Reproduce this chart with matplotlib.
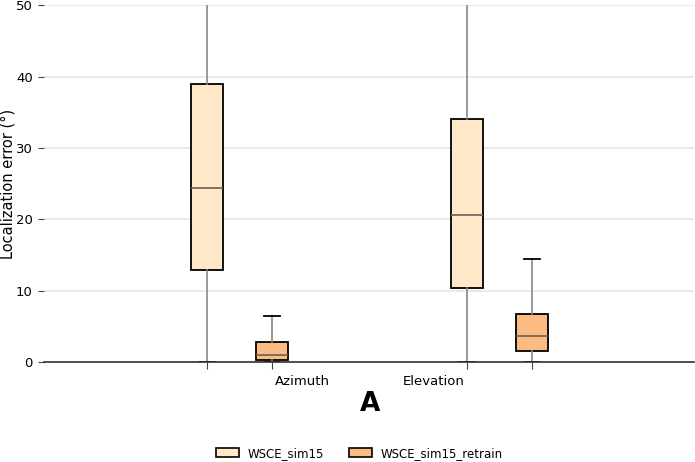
import matplotlib
matplotlib.use("Agg")
import matplotlib.pyplot as plt
from matplotlib.patches import Patch

categories = ["Azimuth", "Elevation"]
series = ["WSCE_sim15", "WSCE_sim15_retrain"]
colors = ["#fee8c8", "#fdbb84"]

# box stats per series per category: (whislo, q1, med, q3, whishi)
sim15_stats = [(0.0, 12.9, 24.4, 38.9, 75.0), (0.0, 10.4, 20.6, 34.1, 75.0)]
retrain_stats = [(0.0, 0.37, 1.07, 2.85, 6.5), (0.0, 1.55, 3.64, 6.7, 14.4)]
all_stats = [sim15_stats, retrain_stats]

yticks = [0, 10, 20, 30, 40, 50]

fig = plt.figure(figsize=(6.95, 4.62), dpi=100)
ax = fig.add_axes([0.063, 0.216, 0.935, 0.773])

offsets = [-0.125, 0.125]
width = 0.124
box_positions = []
for si, stats in enumerate(all_stats):
    bxp = []
    pos = []
    for ci, (lo, q1, med, q3, hi) in enumerate(stats):
        bxp.append(dict(whislo=lo, q1=q1, med=med, q3=q3, whishi=hi, fliers=[], label=""))
        pos.append(ci + 1 + offsets[si])
    box_positions += pos
    ax.bxp(bxp, positions=pos, widths=width, patch_artist=True, showfliers=False,
           boxprops=dict(facecolor=colors[si], edgecolor="black", linewidth=1.3),
           medianprops=dict(color="#6b5f55", linewidth=1.2),
           whiskerprops=dict(color="#888888", linewidth=1.2),
           capprops=dict(color="black", linewidth=1.3),
           capwidths=width * 0.5)

ax.set_xlim(0.245, 2.748)
ax.set_ylim(0, 50)
ax.set_yticks(yticks)
ax.set_xticks(sorted(box_positions))
ax.set_xticklabels([""] * 4)
ax.set_xticks([1.24, 1.745], minor=True)
ax.set_xticklabels(categories, minor=True, fontsize=9.5)
ax.tick_params(axis="x", which="minor", length=0, pad=9)
ax.tick_params(axis="x", which="major", length=5, color="#444444")
ax.tick_params(axis="y", length=4, color="#444444", labelsize=9.5, pad=4)
ax.yaxis.grid(True, color="#e6e6e6", linewidth=1.2)
ax.set_axisbelow(True)
for s in ["top", "right", "left"]:
    ax.spines[s].set_visible(False)
ax.spines["bottom"].set_color("#333333")
ax.spines["bottom"].set_linewidth(1.2)
ax.set_ylabel("Localization error (°)", fontsize=10.5)
ax.yaxis.set_label_coords(-0.043, 0.5)

fig.text(0.532, 0.125, "A", fontsize=19, fontweight="bold", ha="center", va="center")

handles = [Patch(facecolor=c, edgecolor="black", linewidth=1.2) for c in colors]
fig.legend(handles, series, loc="center", bbox_to_anchor=(0.517, 0.019), ncol=2,
           frameon=False, fontsize=8.5, handlelength=1.95, handleheight=0.75,
           handletextpad=0.75, columnspacing=2.1)

fig.savefig("out.png", dpi=100)
